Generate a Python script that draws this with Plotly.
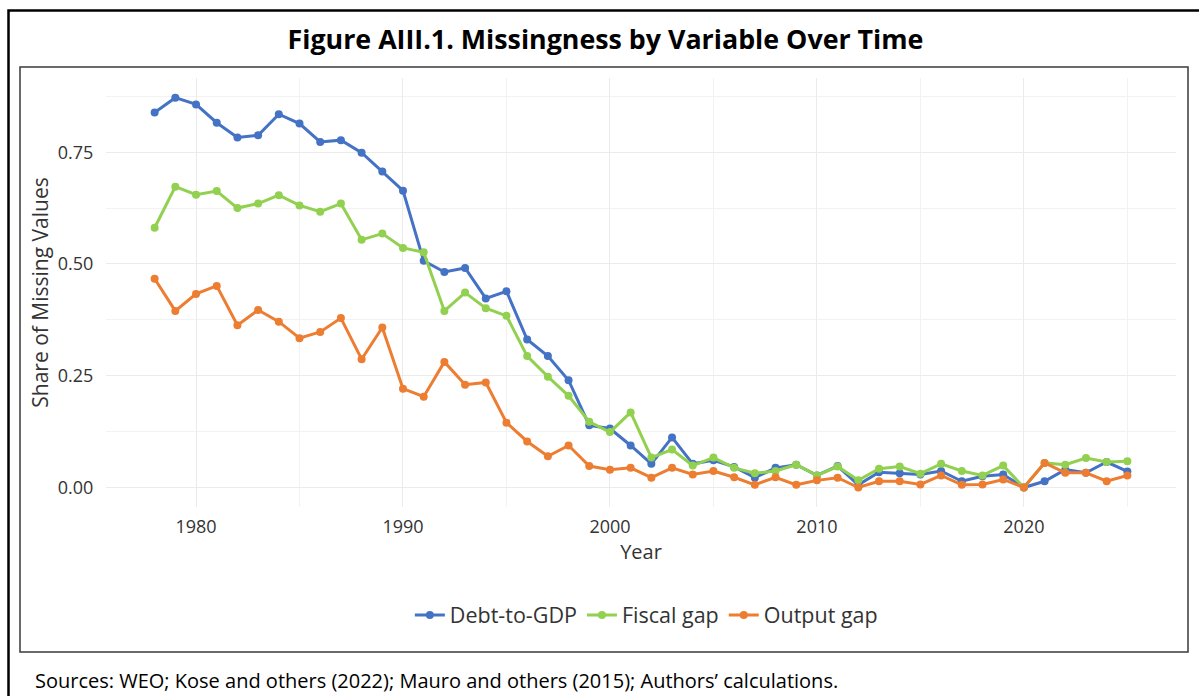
import plotly.graph_objects as go

years = list(range(1978, 2026))

debt_to_gdp = [0.839, 0.872, 0.857, 0.816, 0.783, 0.788, 0.835, 0.814, 0.773, 0.777,
               0.749, 0.707, 0.664, 0.507, 0.482, 0.491, 0.423, 0.439, 0.331, 0.294,
               0.240, 0.139, 0.132, 0.094, 0.053, 0.112, 0.053, 0.061, 0.046, 0.022,
               0.044, 0.051, 0.027, 0.048, 0.006, 0.034, 0.032, 0.029, 0.037, 0.014,
               0.025, 0.029, 0.000, 0.014, 0.040, 0.033, 0.057, 0.036]

fiscal_gap = [0.581, 0.673, 0.655, 0.663, 0.625, 0.635, 0.654, 0.631, 0.617, 0.635,
              0.554, 0.568, 0.536, 0.526, 0.395, 0.436, 0.401, 0.384, 0.294, 0.248,
              0.205, 0.147, 0.124, 0.168, 0.067, 0.085, 0.049, 0.067, 0.044, 0.032,
              0.037, 0.051, 0.027, 0.047, 0.016, 0.042, 0.047, 0.031, 0.053, 0.037,
              0.027, 0.049, 0.000, 0.055, 0.051, 0.066, 0.057, 0.059]

output_gap = [0.467, 0.395, 0.433, 0.451, 0.363, 0.397, 0.371, 0.334, 0.348, 0.379,
              0.287, 0.358, 0.221, 0.203, 0.281, 0.230, 0.235, 0.145, 0.103, 0.070,
              0.094, 0.048, 0.040, 0.044, 0.022, 0.044, 0.029, 0.037, 0.023, 0.006,
              0.023, 0.006, 0.016, 0.022, 0.000, 0.014, 0.014, 0.007, 0.027, 0.006,
              0.007, 0.018, 0.000, 0.055, 0.033, 0.033, 0.014, 0.027]

series_names = ["Debt-to-GDP", "Fiscal gap", "Output gap"]
series_values = [debt_to_gdp, fiscal_gap, output_gap]
series_colors = ["#4472C4", "#92D050", "#ED7D31"]

y_ticks = [0.0, 0.25, 0.5, 0.75]
y_tick_labels = ["0.00", "0.25", "0.50", "0.75"]
x_ticks = [1980, 1990, 2000, 2010, 2020]
x_tick_labels = ["1980", "1990", "2000", "2010", "2020"]

title_text = "<b>Figure AIII.1. Missingness by Variable Over Time</b>"
source_text = "Sources: WEO; Kose and others (2022); Mauro and others (2015); Authors’ calculations."

W, H = 1199, 696
L, R, T, B = 106, 1176, 78, 507  # plot area in pixels

def px(x):
    return (x - L) / (R - L)

def py(y):
    return (B - y) / (B - T)

FONT = "Open Sans"
TXT = "#333333"
GRID = "#EBEBEB"

fig = go.Figure()
for name, vals, col in zip(series_names, series_values, series_colors):
    fig.add_trace(go.Scatter(
        x=years, y=vals, name=name, mode="lines+markers",
        line=dict(color=col, width=3),
        marker=dict(color=col, size=8),
    ))

fig.update_layout(
    width=W, height=H,
    margin=dict(l=L, r=W - R, t=T, b=H - B),
    paper_bgcolor="white", plot_bgcolor="white",
    font=dict(family=FONT, color=TXT),
    showlegend=True,
    legend=dict(orientation="h", x=0.505, xanchor="center", y=py(615), yanchor="middle",
                font=dict(size=21.5, color=TXT), itemwidth=30, tracegroupgap=0),
    title=dict(text=title_text, x=0.505, xanchor="center", y=1 - 40 / H, yanchor="middle",
               font=dict(size=26.8, color="black", family=FONT)),
)

fig.update_xaxes(
    range=[1975.65, 2027.35], tickvals=x_ticks, ticktext=x_tick_labels,
    showgrid=True, gridcolor=GRID, gridwidth=1.1, zeroline=False, showline=False,
    ticks="outside", ticklen=3, tickcolor="rgba(0,0,0,0)",
    tickfont=dict(size=18, color=TXT),
    minor=dict(dtick=5, tick0=1975, showgrid=True, gridcolor="#F2F2F2", gridwidth=1),
    title=dict(text="Year", font=dict(size=20, color=TXT), standoff=4),
)
fig.update_yaxes(
    range=[-0.0436, 0.916], tickvals=y_ticks, ticktext=y_tick_labels,
    showgrid=True, gridcolor=GRID, gridwidth=1.1, zeroline=False, showline=False,
    ticks="outside", ticklen=8, tickcolor="rgba(0,0,0,0)",
    tickfont=dict(size=18, color=TXT),
    minor=dict(dtick=0.125, tick0=0, showgrid=True, gridcolor="#F2F2F2", gridwidth=1),
    title=dict(text="Share of Missing Values", font=dict(size=21, color=TXT), standoff=3),
)

# outer frame
fig.add_shape(type="rect", xref="paper", yref="paper",
              x0=px(8.5), x1=px(1215), y0=py(10.5), y1=py(720),
              line=dict(color="black", width=2.5), fillcolor="rgba(0,0,0,0)", layer="above")
# inner chart frame
fig.add_shape(type="rect", xref="paper", yref="paper",
              x0=px(20), x1=px(1188), y0=py(67), y1=py(652),
              line=dict(color="#3a3a3a", width=1.5), fillcolor="rgba(0,0,0,0)", layer="above")

fig.add_annotation(text=source_text, xref="paper", yref="paper",
                   x=px(33), y=py(680), xanchor="left", yanchor="middle",
                   showarrow=False, font=dict(size=20, color="black", family=FONT))

fig.write_html("out.html", config={"displayModeBar": False},
               post_script="document.body.style.margin='0';document.body.style.overflow='hidden';")
